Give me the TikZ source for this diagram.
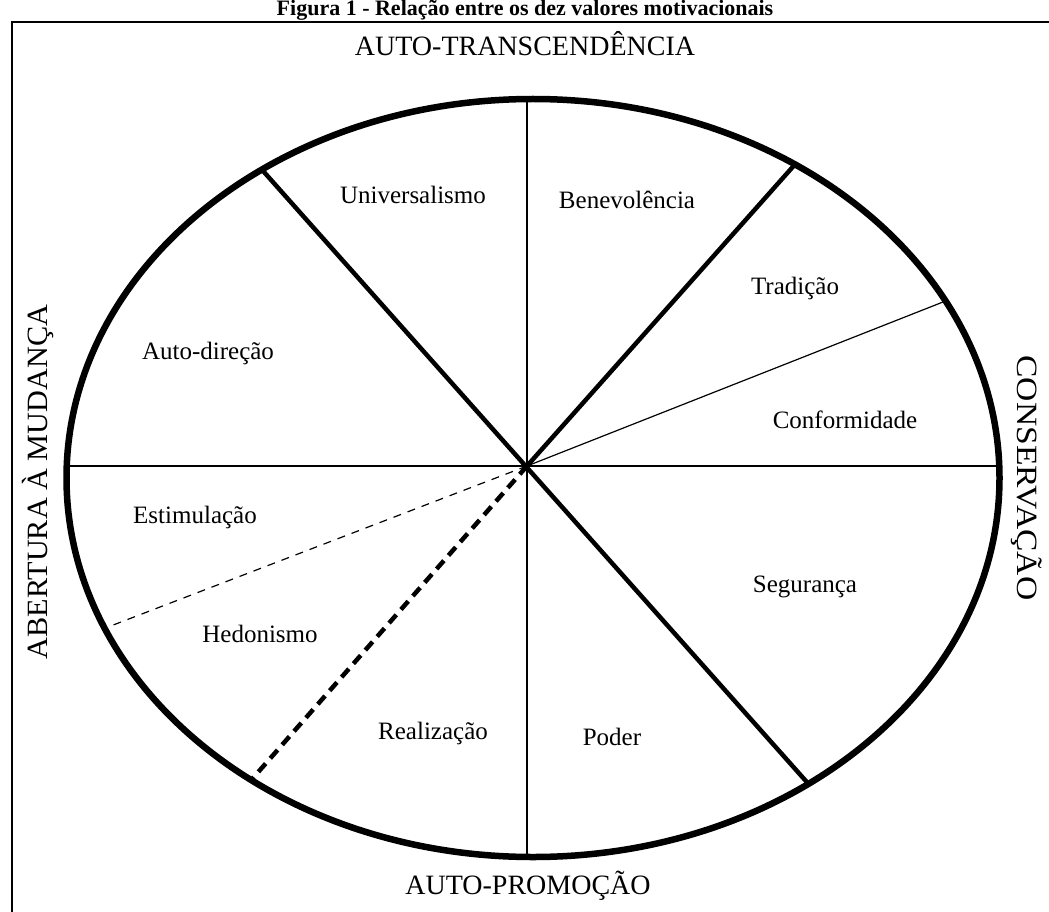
\documentclass[tikz,border=0pt]{standalone}
\usepackage{fontspec}
\setmainfont{Liberation Serif}
\usetikzlibrary{calc}
\begin{document}
\begin{tikzpicture}[x=1pt,y=-1pt,
  lab/.style={font=\fontsize{25}{30}\selectfont, inner sep=0pt},
  caplab/.style={font=\fontsize{28}{32}\selectfont, inner sep=0pt},
  thinline/.style={line width=1.5pt},
  thickline/.style={line width=4.5pt},
  rim/.style={line width=6.5pt},
  framel/.style={line width=2pt}]
\useasboundingbox (0,0) rectangle (1049,912);
% frame
\coordinate (FB) at (12,912);
\coordinate (FT) at (12,22);
\coordinate (FR) at (1049,22);
\draw[framel] (FB) -- (FT) -- (FR);
% title
\node[inner sep=0pt, anchor=base, font=\bfseries\fontsize{22}{26}\selectfont] (title) at (525,16) {Figura 1 - Relação entre os dez valores motivacionais};
% key points
\coordinate (O) at (527,466);
\coordinate (C) at (533,478);
\coordinate (T) at (527,60);
\coordinate (B) at (527,900);
\coordinate (L) at (40,466);
\coordinate (R) at (1030,466);
\coordinate (NW) at (265,173);
\coordinate (SE) at (806,781);
\coordinate (NE) at (790,170);
\coordinate (ENE) at (943,302);
\coordinate (WSW) at (108,627);
\coordinate (SW) at (253,778);
% dividers, clipped to the rim
\begin{scope}
\clip (C) ellipse [x radius=466.5, y radius=379];
\draw[thinline] (T) -- (B);
\draw[thinline] (L) -- (R);
\draw[thickline] ($(O)!1.1!(NW)$) -- ($(O)!1.1!(SE)$);
\draw[thickline] (O) -- ($(O)!1.1!(NE)$);
\draw[line width=1.2pt] (O) -- ($(O)!1.1!(ENE)$);
\draw[line width=1.2pt, dash pattern=on 8pt off 7pt] (O) -- ($(O)!1.1!(WSW)$);
\draw[thickline, dash pattern=on 11pt off 7pt] (O) -- ($(O)!1.1!(SW)$);
\end{scope}
% rim
\draw[rim] (C) ellipse [x radius=466.5, y radius=379];
% axis labels
\node[caplab] (top) at (525,44) {AUTO-TRANSCENDÊNCIA};
\node[caplab] (bot) at (528,886) {AUTO-PROMOÇÃO};
\node[caplab, rotate=90] (left) at (38,482) {\scalebox{1.08}[1.05]{ABERTURA À MUDANÇA}};
\node[caplab, rotate=-90] (right) at (1027,478) {\scalebox{1.2}[1.05]{CONSERVAÇÃO}};
% value labels
\node[lab] (uni) at (413,195) {Universalismo};
\node[lab] (ben) at (627,200) {Benevolência};
\node[lab] (tra) at (795,288) {Tradição};
\node[lab] (aut) at (208,353) {Auto-direção};
\node[lab] (con) at (845,420) {Conformidade};
\node[lab] (est) at (195,517) {Estimulação};
\node[lab] (seg) at (805,587) {Segurança};
\node[lab] (hed) at (260,634) {Hedonismo};
\node[lab] (rea) at (433,733) {Realização};
\node[lab] (pod) at (612,737) {Poder};
\end{tikzpicture}
\end{document}
